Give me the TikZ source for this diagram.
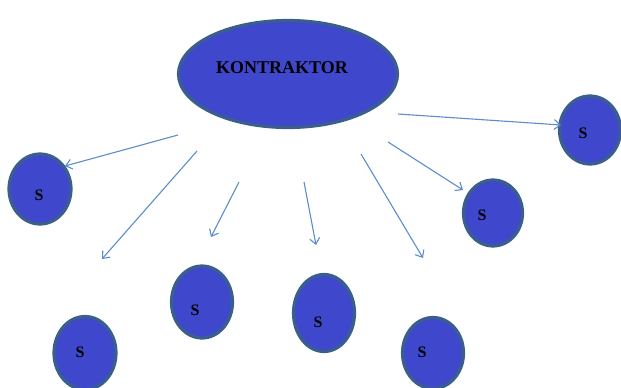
\documentclass[tikz,border=0pt]{standalone}
\usepackage{fontspec}
\setmainfont{Liberation Serif}
\usetikzlibrary{shapes.geometric,arrows.meta}
\definecolor{fillblue}{HTML}{3F48CC}
\definecolor{rimblue}{HTML}{3A5F8C}
\definecolor{arrowblue}{HTML}{5C8DCB}
\tikzset{
  blob/.style={ellipse, draw=rimblue, fill=fillblue, line width=3.2pt, inner sep=0pt},
  lbl/.style={font=\fontsize{16}{16}\selectfont\bfseries, text=black, inner sep=0pt},
  link/.style={draw=arrowblue, line width=1.1pt, -{Straight Barb[length=6pt,width=10pt]}}
}
\begin{document}
\begin{tikzpicture}[x=1pt,y=-1pt]
\useasboundingbox (0,0) rectangle (621,388);
% main ellipse
\node[blob, minimum width=219pt, minimum height=107pt] (k) at (288,74) {};
\node[font=\fontsize{18}{18}\selectfont\bfseries, inner sep=0pt] (kt) at (282,68) {KONTRAKTOR};
% subcontractor circles
\node[blob, minimum width=62pt, minimum height=70pt] (s1) at (40,189) {};
\node[blob, minimum width=62pt, minimum height=73pt] (s2) at (85,353) {};
\node[blob, minimum width=61pt, minimum height=72pt] (s3) at (202,302) {};
\node[blob, minimum width=61pt, minimum height=77pt] (s4) at (324,313) {};
\node[blob, minimum width=61pt, minimum height=71pt] (s5) at (433,353) {};
\node[blob, minimum width=59pt, minimum height=66pt] (s6) at (493,213) {};
\node[blob, minimum width=61pt, minimum height=68pt] (s7) at (590,130) {};
\node[lbl] (l1) at (39,195) {S};
\node[lbl] (l2) at (80,352) {S};
\node[lbl] (l3) at (195,310) {S};
\node[lbl] (l4) at (318,322) {S};
\node[lbl] (l5) at (422,352) {S};
\node[lbl] (l6) at (482,215) {S};
\node[lbl] (l7) at (583,133) {S};
% arrow end points
\coordinate (a1) at (178,135); \coordinate (b1) at (65,166);
\coordinate (a2) at (197,151); \coordinate (b2) at (102,259);
\coordinate (a3) at (239,182); \coordinate (b3) at (211,237);
\coordinate (a4) at (304,182); \coordinate (b4) at (316,245);
\coordinate (a5) at (361,154); \coordinate (b5) at (423,258);
\coordinate (a6) at (388,142); \coordinate (b6) at (463,190);
\coordinate (a7) at (398,114); \coordinate (b7) at (561,125);
\draw[link] (a1) -- (b1);
\draw[link] (a2) -- (b2);
\draw[link] (a3) -- (b3);
\draw[link] (a4) -- (b4);
\draw[link] (a5) -- (b5);
\draw[link] (a6) -- (b6);
\draw[link] (a7) -- (b7);
\end{tikzpicture}
\end{document}
